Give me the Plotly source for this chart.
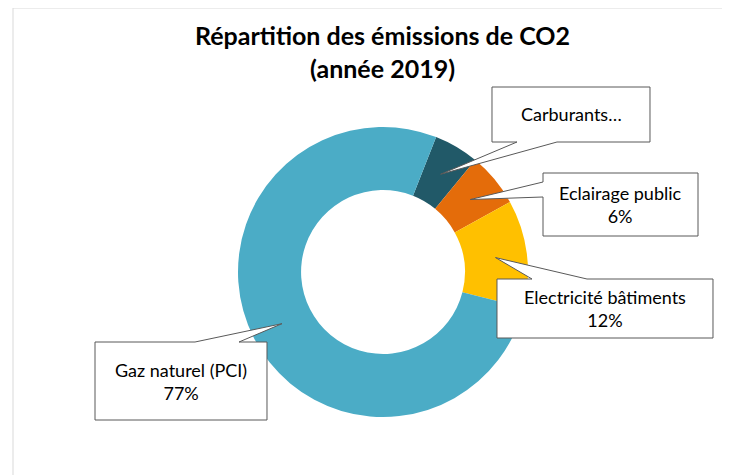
import numpy as np
import plotly.graph_objects as go

W, H = 730, 475
OFF = 8  # the page body adds an 8px margin around the plot

categories = ["Carburants", "Eclairage public", "Electricité bâtiments", "Gaz naturel (PCI)"]
shares = [5, 6, 12, 77]
colors = ["#215968", "#E46C0A", "#FFC000", "#4BACC6"]
callout_text = ["Carburants…", "Eclairage public<br>6%", "Electricité bâtiments<br>12%",
                "Gaz naturel (PCI)<br>77%"]

# layout of the donut (screen pixels)
cx, cy, R = 383, 272, 145
hole = 0.565
rotation = 21.5

# callout boxes: x0, y0, x1, y1, side of the tail, tail base (a, b)
boxes = [
    (492, 87, 650, 142, "bottom", (517, 557)),
    (543, 173, 698, 236, "left", (182, 197)),
    (497, 279, 713, 338, "top", (532, 587)),
    (95, 342, 267, 420, "top", (195, 239)),
]


def px(x):
    return (x - OFF) / W


def py(y):
    return 1 - (y - OFF) / H


def tips():
    # middle of each slice, at the middle of the ring
    frac = np.array(shares) / sum(shares)
    start = np.concatenate([[0], np.cumsum(frac)[:-1]])
    mid = np.radians(rotation + (start + frac / 2) * 360)
    r = (1 + hole) / 2 * R
    return [(cx + r * np.sin(a), cy - r * np.cos(a)) for a in mid]


def callout_path(box, tip):
    x0, y0, x1, y1, side, (a, b) = box
    tx, ty = tip
    if side == "top":
        pts = [(x0, y0), (a, y0), (tx, ty), (b, y0), (x1, y0), (x1, y1), (x0, y1)]
    elif side == "bottom":
        pts = [(x0, y0), (x1, y0), (x1, y1), (b, y1), (tx, ty), (a, y1), (x0, y1)]
    else:
        pts = [(x0, y0), (x1, y0), (x1, y1), (x0, y1), (x0, b), (tx, ty), (x0, a)]
    return "M " + " L ".join(f"{px(x):.5f},{py(y):.5f}" for x, y in pts) + " Z"


fig = go.Figure()
fig.add_trace(go.Pie(
    labels=categories, values=shares, hole=hole, sort=False,
    direction="clockwise", rotation=rotation,
    marker=dict(colors=colors, line=dict(width=0)),
    textinfo="none", hoverinfo="label+percent", showlegend=False,
    domain=dict(x=[px(cx - R), px(cx + R)], y=[py(cy + R), py(cy - R)]),
))

shapes = [dict(type="rect", xref="paper", yref="paper",
               x0=px(13), y0=py(8), x1=px(760), y1=py(500),
               line=dict(color="#D9D9D9", width=1), fillcolor="rgba(0,0,0,0)")]
annotations = []
for box, tip, txt in zip(boxes, tips(), callout_text):
    shapes.append(dict(type="path", xref="paper", yref="paper", path=callout_path(box, tip),
                       line=dict(color="#595959", width=1), fillcolor="white"))
    annotations.append(dict(xref="paper", yref="paper", x=px((box[0] + box[2]) / 2),
                            y=py((box[1] + box[3]) / 2), xanchor="center", yanchor="middle",
                            text=txt, showarrow=False,
                            font=dict(size=18, color="#000000", family="Lato")))

annotations.append(dict(xref="paper", yref="paper", x=px(382), y=py(51),
                        xanchor="center", yanchor="middle",
                        text="<b>Répartition des émissions de CO2<br>(année 2019)</b>",
                        showarrow=False, font=dict(size=25, color="#000000", family="Lato")))

fig.update_layout(
    width=W, height=H,
    margin=dict(l=0, r=0, t=0, b=0),
    paper_bgcolor="white",
    shapes=shapes,
    annotations=annotations,
)

fig.write_html("out.html")
